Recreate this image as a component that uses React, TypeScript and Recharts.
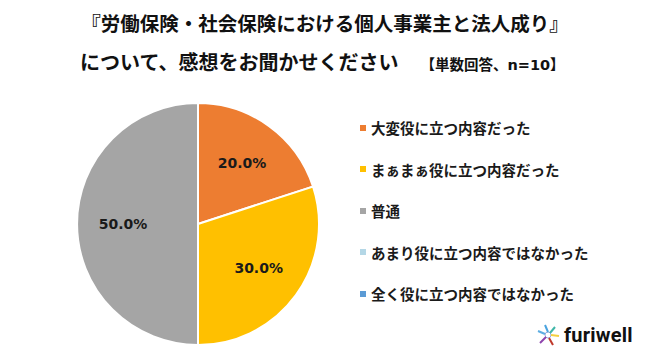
import * as React from 'react'
import { PieChart, Pie, Cell, Legend } from 'recharts'

const answers = [
  '大変役に立つ内容だった',
  'まぁまぁ役に立つ内容だった',
  '普通',
  'あまり役に立つ内容ではなかった',
  '全く役に立つ内容ではなかった',
]
const shares = [20, 30, 50, 0, 0]
const colors = ['#ED7D31', '#FFC000', '#A5A5A5', '#B4D7E6', '#5B9BD5']

const data = answers.map((name, i) => ({ name, value: shares[i] }))

const FONT = '"Noto Sans CJK JP", "Noto Sans", sans-serif'
const LATIN = '"DejaVu Sans", "Noto Sans CJK JP", sans-serif'
const RAD = Math.PI / 180

const renderLabel = (props: any) => {
  const { cx, cy, midAngle, outerRadius, value } = props
  if (!value) return null
  const r = outerRadius * 0.62
  const x = cx + r * Math.cos(-midAngle * RAD)
  const y = cy + r * Math.sin(-midAngle * RAD)
  return (
    <text x={x} y={y} textAnchor="middle" dominantBaseline="central"
      fill="#1a1a1a" fontSize={14} fontWeight={700} fontFamily={LATIN}>
      {value.toFixed(1)}%
    </text>
  )
}

const renderLegend = () => (
  <div style={{ fontFamily: FONT }}>
    {answers.map((a, i) => (
      <div key={a} style={{ display: 'flex', alignItems: 'center', height: 41.5 }}>
        <span style={{ width: 6, height: 6, background: colors[i], marginRight: 5, display: 'inline-block' }} />
        <span style={{ fontSize: 14.5, fontWeight: 700, color: '#1a1a1a' }}>{a}</span>
      </div>
    ))}
  </div>
)

const Logo = () => (
  <div style={{ position: 'absolute', left: 535, top: 322, display: 'flex', alignItems: 'center' }}>
    <svg width={26} height={26} viewBox="0 0 26 26">
      <circle cx={13} cy={13} r={3} fill="none" stroke="#9ad" strokeWidth={1} />
      <path d="M13 10 L10 3" stroke="#4aa3df" strokeWidth={2} />
      <path d="M15 11 L20 5" stroke="#3fb6a8" strokeWidth={2} />
      <path d="M16 13 L24 14" stroke="#f4d03f" strokeWidth={2} />
      <path d="M14 16 L18 23" stroke="#c0392b" strokeWidth={2} />
      <path d="M11 15 L5 21" stroke="#8e44ad" strokeWidth={2} />
      <path d="M10 12 L3 9" stroke="#5dade2" strokeWidth={2} />
    </svg>
    <span style={{ fontFamily: 'Roboto, "Noto Sans", sans-serif', fontWeight: 700, fontSize: 20, color: '#111', marginLeft: 3, letterSpacing: 0.2 }}>
      furiwell
    </span>
  </div>
)

export default function App() {
  return (
    <div style={{ position: 'absolute', left: 0, top: 0, width: 648, height: 360, background: '#fff', overflow: 'hidden' }}>
      <div style={{ position: 'absolute', left: 0, top: 9, width: 650, textAlign: 'center', fontFamily: FONT, fontWeight: 700, fontSize: 19.5, color: '#111', lineHeight: '28px' }}>
        『労働保険・社会保険における個人事業主と法人成り』
      </div>
      <div style={{ position: 'absolute', left: 80, top: 48, fontFamily: FONT, fontWeight: 700, fontSize: 20, color: '#111', lineHeight: '28px', whiteSpace: 'nowrap' }}>
        について、感想をお聞かせください
        <span style={{ fontFamily: LATIN, fontSize: 14.5, marginLeft: 22 }}>【単数回答、n=10】</span>
      </div>
      <PieChart width={648} height={360} style={{ position: 'absolute', left: 0, top: 0 }}>
        <Pie data={data} dataKey="value" nameKey="name" cx={193} cy={219} outerRadius={121}
          startAngle={90} endAngle={-270} stroke="#fff" strokeWidth={2}
          label={renderLabel} labelLine={false} isAnimationActive={false}>
          {data.map((d, i) => <Cell key={d.name} fill={colors[i]} />)}
        </Pie>
        <Legend content={renderLegend} layout="vertical"
          wrapperStyle={{ position: 'absolute', left: 360, top: 107, width: 280 }} />
      </PieChart>
      <Logo />
    </div>
  )
}
